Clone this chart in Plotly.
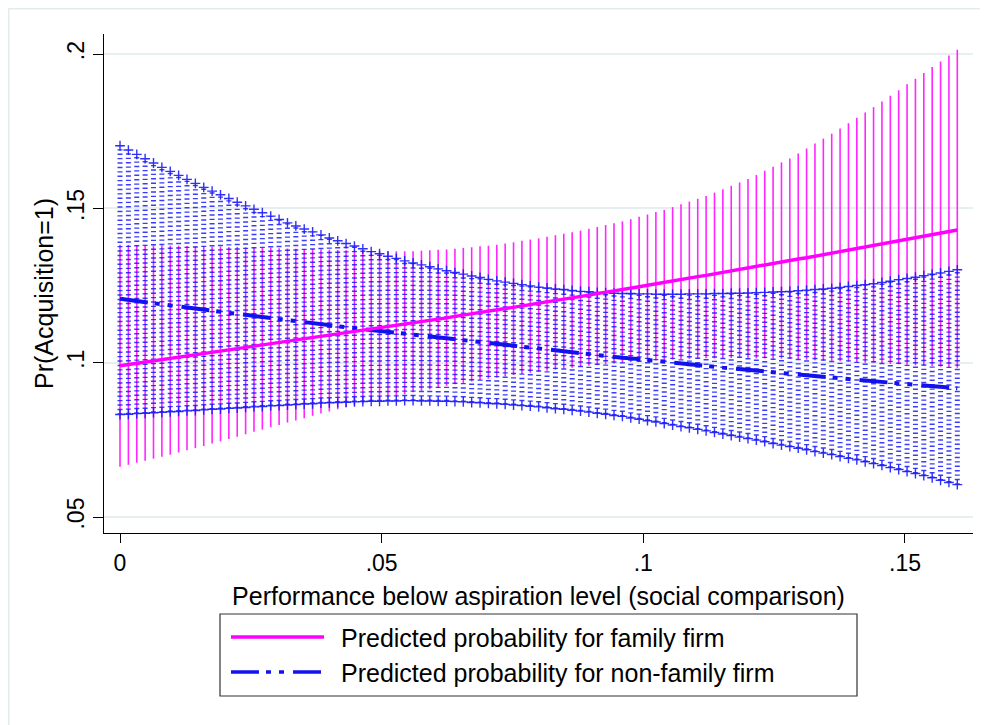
import plotly.graph_objects as go

# ---------------- data ----------------
perf = [
    0.0000, 0.0016, 0.0032, 0.0048, 0.0064, 0.0080, 0.0096, 0.0112, 0.0128, 0.0144,
    0.0160, 0.0176, 0.0192, 0.0208, 0.0224, 0.0240, 0.0256, 0.0272, 0.0288, 0.0304,
    0.0320, 0.0336, 0.0352, 0.0368, 0.0384, 0.0400, 0.0416, 0.0432, 0.0448, 0.0464,
    0.0480, 0.0496, 0.0512, 0.0528, 0.0544, 0.0560, 0.0576, 0.0592, 0.0608, 0.0624,
    0.0640, 0.0656, 0.0672, 0.0688, 0.0704, 0.0720, 0.0736, 0.0752, 0.0768, 0.0784,
    0.0800, 0.0816, 0.0832, 0.0848, 0.0864, 0.0880, 0.0896, 0.0912, 0.0928, 0.0944,
    0.0960, 0.0976, 0.0992, 0.1008, 0.1024, 0.1040, 0.1056, 0.1072, 0.1088, 0.1104,
    0.1120, 0.1136, 0.1152, 0.1168, 0.1184, 0.1200, 0.1216, 0.1232, 0.1248, 0.1264,
    0.1280, 0.1296, 0.1312, 0.1328, 0.1344, 0.1360, 0.1376, 0.1392, 0.1408, 0.1424,
    0.1440, 0.1456, 0.1472, 0.1488, 0.1504, 0.1520, 0.1536, 0.1552, 0.1568, 0.1584,
    0.1600,
]

fam_pred = [
    0.0990, 0.0994, 0.0998, 0.1001, 0.1005, 0.1009, 0.1013, 0.1017, 0.1021, 0.1024,
    0.1028, 0.1032, 0.1036, 0.1040, 0.1044, 0.1048, 0.1052, 0.1056, 0.1060, 0.1063,
    0.1067, 0.1071, 0.1075, 0.1079, 0.1084, 0.1088, 0.1092, 0.1096, 0.1100, 0.1104,
    0.1108, 0.1112, 0.1116, 0.1120, 0.1124, 0.1129, 0.1133, 0.1137, 0.1141, 0.1145,
    0.1150, 0.1154, 0.1158, 0.1163, 0.1167, 0.1171, 0.1175, 0.1180, 0.1184, 0.1188,
    0.1193, 0.1197, 0.1202, 0.1206, 0.1211, 0.1215, 0.1219, 0.1224, 0.1228, 0.1233,
    0.1237, 0.1242, 0.1246, 0.1251, 0.1256, 0.1260, 0.1265, 0.1269, 0.1274, 0.1279,
    0.1283, 0.1288, 0.1293, 0.1297, 0.1302, 0.1307, 0.1312, 0.1316, 0.1321, 0.1326,
    0.1331, 0.1336, 0.1340, 0.1345, 0.1350, 0.1355, 0.1360, 0.1365, 0.1370, 0.1375,
    0.1380, 0.1385, 0.1390, 0.1395, 0.1400, 0.1405, 0.1410, 0.1415, 0.1420, 0.1425,
    0.1430,
]

fam_hi = [
    0.1382, 0.1382, 0.1381, 0.1381, 0.1380, 0.1380, 0.1379, 0.1379, 0.1378, 0.1378,
    0.1377, 0.1376, 0.1376, 0.1375, 0.1375, 0.1374, 0.1373, 0.1372, 0.1372, 0.1371,
    0.1370, 0.1369, 0.1368, 0.1368, 0.1367, 0.1366, 0.1365, 0.1364, 0.1364, 0.1363,
    0.1362, 0.1362, 0.1362, 0.1361, 0.1361, 0.1361, 0.1363, 0.1364, 0.1366, 0.1367,
    0.1369, 0.1372, 0.1374, 0.1377, 0.1379, 0.1382, 0.1386, 0.1390, 0.1395, 0.1399,
    0.1403, 0.1408, 0.1413, 0.1418, 0.1423, 0.1428, 0.1434, 0.1440, 0.1446, 0.1452,
    0.1458, 0.1465, 0.1473, 0.1480, 0.1488, 0.1495, 0.1504, 0.1513, 0.1522, 0.1531,
    0.1540, 0.1551, 0.1562, 0.1573, 0.1584, 0.1595, 0.1608, 0.1622, 0.1635, 0.1649,
    0.1662, 0.1678, 0.1694, 0.1710, 0.1726, 0.1742, 0.1759, 0.1776, 0.1794, 0.1811,
    0.1828, 0.1846, 0.1865, 0.1883, 0.1902, 0.1920, 0.1939, 0.1958, 0.1976, 0.1995,
    0.2014,
]

fam_lo = [
    0.0663, 0.0669, 0.0676, 0.0682, 0.0689, 0.0695, 0.0702, 0.0709, 0.0716, 0.0723,
    0.0730, 0.0738, 0.0745, 0.0753, 0.0760, 0.0768, 0.0776, 0.0783, 0.0791, 0.0798,
    0.0806, 0.0813, 0.0820, 0.0828, 0.0835, 0.0842, 0.0849, 0.0855, 0.0862, 0.0868,
    0.0875, 0.0881, 0.0887, 0.0892, 0.0898, 0.0904, 0.0909, 0.0914, 0.0920, 0.0925,
    0.0930, 0.0934, 0.0939, 0.0943, 0.0948, 0.0952, 0.0956, 0.0960, 0.0963, 0.0967,
    0.0971, 0.0974, 0.0977, 0.0981, 0.0984, 0.0987, 0.0990, 0.0992, 0.0995, 0.0997,
    0.1000, 0.1002, 0.1004, 0.1005, 0.1007, 0.1009, 0.1010, 0.1011, 0.1012, 0.1013,
    0.1014, 0.1014, 0.1014, 0.1015, 0.1015, 0.1015, 0.1014, 0.1014, 0.1013, 0.1013,
    0.1012, 0.1011, 0.1010, 0.1008, 0.1007, 0.1006, 0.1005, 0.1003, 0.1002, 0.1000,
    0.0999, 0.0998, 0.0996, 0.0995, 0.0993, 0.0992, 0.0990, 0.0989, 0.0987, 0.0986,
    0.0984,
]

non_pred = [
    0.1207, 0.1203, 0.1200, 0.1196, 0.1193, 0.1189, 0.1186, 0.1182, 0.1179, 0.1175,
    0.1172, 0.1168, 0.1165, 0.1161, 0.1158, 0.1155, 0.1151, 0.1148, 0.1145, 0.1141,
    0.1138, 0.1135, 0.1131, 0.1128, 0.1125, 0.1121, 0.1118, 0.1115, 0.1112, 0.1109,
    0.1105, 0.1102, 0.1099, 0.1096, 0.1093, 0.1090, 0.1087, 0.1083, 0.1080, 0.1077,
    0.1074, 0.1071, 0.1068, 0.1065, 0.1062, 0.1059, 0.1056, 0.1053, 0.1050, 0.1048,
    0.1045, 0.1042, 0.1039, 0.1036, 0.1033, 0.1030, 0.1028, 0.1025, 0.1022, 0.1019,
    0.1016, 0.1014, 0.1011, 0.1008, 0.1005, 0.1003, 0.1000, 0.0997, 0.0995, 0.0992,
    0.0990, 0.0987, 0.0984, 0.0982, 0.0979, 0.0977, 0.0974, 0.0972, 0.0969, 0.0967,
    0.0964, 0.0962, 0.0959, 0.0957, 0.0954, 0.0952, 0.0950, 0.0947, 0.0945, 0.0942,
    0.0940, 0.0938, 0.0935, 0.0933, 0.0931, 0.0929, 0.0926, 0.0924, 0.0922, 0.0920,
    0.0917,
]

non_hi = [
    0.1703, 0.1689, 0.1675, 0.1661, 0.1647, 0.1633, 0.1620, 0.1607, 0.1594, 0.1581,
    0.1568, 0.1556, 0.1544, 0.1532, 0.1520, 0.1508, 0.1497, 0.1486, 0.1475, 0.1464,
    0.1453, 0.1443, 0.1433, 0.1424, 0.1414, 0.1404, 0.1395, 0.1386, 0.1378, 0.1369,
    0.1360, 0.1353, 0.1345, 0.1338, 0.1330, 0.1323, 0.1317, 0.1311, 0.1304, 0.1298,
    0.1292, 0.1287, 0.1281, 0.1276, 0.1270, 0.1265, 0.1261, 0.1257, 0.1253, 0.1249,
    0.1245, 0.1242, 0.1239, 0.1237, 0.1234, 0.1231, 0.1230, 0.1228, 0.1227, 0.1225,
    0.1224, 0.1224, 0.1223, 0.1223, 0.1222, 0.1222, 0.1222, 0.1222, 0.1223, 0.1223,
    0.1223, 0.1224, 0.1224, 0.1225, 0.1225, 0.1226, 0.1227, 0.1228, 0.1229, 0.1230,
    0.1231, 0.1233, 0.1235, 0.1237, 0.1239, 0.1241, 0.1244, 0.1247, 0.1250, 0.1253,
    0.1256, 0.1260, 0.1264, 0.1269, 0.1273, 0.1277, 0.1282, 0.1287, 0.1291, 0.1296,
    0.1301,
]

non_lo = [
    0.0832, 0.0833, 0.0835, 0.0836, 0.0838, 0.0839, 0.0841, 0.0842, 0.0844, 0.0845,
    0.0847, 0.0849, 0.0850, 0.0852, 0.0853, 0.0855, 0.0857, 0.0858, 0.0860, 0.0861,
    0.0863, 0.0864, 0.0866, 0.0867, 0.0869, 0.0870, 0.0871, 0.0872, 0.0873, 0.0874,
    0.0875, 0.0875, 0.0876, 0.0876, 0.0877, 0.0877, 0.0876, 0.0876, 0.0875, 0.0875,
    0.0874, 0.0873, 0.0871, 0.0870, 0.0868, 0.0867, 0.0865, 0.0863, 0.0861, 0.0859,
    0.0857, 0.0854, 0.0851, 0.0849, 0.0846, 0.0843, 0.0840, 0.0836, 0.0833, 0.0829,
    0.0826, 0.0821, 0.0817, 0.0812, 0.0808, 0.0803, 0.0798, 0.0793, 0.0789, 0.0784,
    0.0779, 0.0774, 0.0769, 0.0764, 0.0759, 0.0754, 0.0749, 0.0744, 0.0738, 0.0733,
    0.0728, 0.0723, 0.0718, 0.0712, 0.0707, 0.0702, 0.0696, 0.0690, 0.0685, 0.0679,
    0.0673, 0.0667, 0.0660, 0.0654, 0.0647, 0.0641, 0.0634, 0.0627, 0.0619, 0.0612,
    0.0605,
]

x_tickvals = [0, 0.05, 0.1, 0.15]
x_ticktext = ["0", ".05", ".1", ".15"]
y_tickvals = [0.05, 0.1, 0.15, 0.2]
y_ticktext = [".05", ".1", ".15", ".2"]

x_title = "Performance below aspiration level (social comparison)"
y_title = "Pr(Acquisition=1)"
legend_labels = ["Predicted probability for family firm",
                 "Predicted probability for non-family firm"]

# ---------------- styling ----------------
FONT = "Liberation Sans, Arial, Helvetica, sans-serif"
MAGENTA = "#FF00FF"
BLUE = "#1212EE"
NON_DASH = "28px,7px,5px,8px,5px,9px"


def spikes(xs, lo, hi):
    """Vertical range segments built from the data arrays."""
    X, Y = [], []
    for x, a, b in zip(xs, lo, hi):
        X += [x, x, None]
        Y += [a, b, None]
    return X, Y


fx, fy = spikes(perf, fam_lo, fam_hi)
nx, ny = spikes(perf, non_lo, non_hi)

fig = go.Figure()

# family-firm CI (solid magenta spikes)
fig.add_trace(go.Scatter(
    x=fx, y=fy, mode="lines", hoverinfo="skip", showlegend=False,
    line=dict(color="rgba(255,0,255,0.85)", width=1.6),
))
# non-family CI (dashed blue spikes)
fig.add_trace(go.Scatter(
    x=nx, y=ny, mode="lines", hoverinfo="skip", showlegend=False,
    line=dict(color="rgba(25,25,250,0.85)", width=5, dash="1.4px,3px"),
))
# non-family CI caps
fig.add_trace(go.Scatter(
    x=perf + perf, y=non_hi + non_lo, mode="markers", hoverinfo="skip",
    showlegend=False,
    marker=dict(symbol="cross-thin", size=7,
                line=dict(width=1.4, color="rgba(25,25,250,0.9)")),
))
# predicted lines
fig.add_trace(go.Scatter(
    x=perf, y=non_pred, mode="lines", name=legend_labels[1], showlegend=False,
    line=dict(color=BLUE, width=4, dash=NON_DASH),
))
fig.add_trace(go.Scatter(
    x=perf, y=fam_pred, mode="lines", name=legend_labels[0], showlegend=False,
    line=dict(color=MAGENTA, width=3.4),
))

# ---------------- layout ----------------
# page has an 8px body margin; figure is sized so the plot lands where the
# reference's plot area is (page px 104..973 x 34..533)
PAGE_OFF = 8
L, R, T, B = 96, 15, 26, 192
W, H = 980, 717
PW, PH = W - L - R, H - T - B


def px2paper_x(px):
    return (px - PAGE_OFF - L) / PW


def px2paper_y(py):
    return (H - B - (py - PAGE_OFF)) / PH


shapes = [
    # faint outer graph-region frame (top / left edges visible)
    dict(type="rect", xref="paper", yref="paper",
         x0=px2paper_x(8.7), x1=px2paper_x(1010),
         y0=px2paper_y(760), y1=px2paper_y(8.7),
         line=dict(color="#E3EBED", width=1.5), layer="below"),
    # legend box
    dict(type="rect", xref="paper", yref="paper",
         x0=px2paper_x(220), x1=px2paper_x(857),
         y0=px2paper_y(696), y1=px2paper_y(614),
         line=dict(color="#333333", width=1.2), fillcolor="white"),
    # legend samples
    dict(type="line", xref="paper", yref="paper",
         x0=px2paper_x(231), x1=px2paper_x(324),
         y0=px2paper_y(637), y1=px2paper_y(637),
         line=dict(color=MAGENTA, width=3.4)),
    dict(type="line", xref="paper", yref="paper",
         x0=px2paper_x(231), x1=px2paper_x(324),
         y0=px2paper_y(672), y1=px2paper_y(672),
         line=dict(color=BLUE, width=3.6, dash=NON_DASH)),
]

annotations = [
    dict(xref="paper", yref="paper", x=px2paper_x(339), y=px2paper_y(638),
         xanchor="left", yanchor="middle", showarrow=False,
         text=legend_labels[0], font=dict(family=FONT, size=25, color="black")),
    dict(xref="paper", yref="paper", x=px2paper_x(339), y=px2paper_y(673),
         xanchor="left", yanchor="middle", showarrow=False,
         text=legend_labels[1], font=dict(family=FONT, size=25, color="black")),
    # y-axis title (rotated), placed like the reference
    dict(xref="paper", yref="paper", x=px2paper_x(44), y=px2paper_y(294),
         xanchor="center", yanchor="middle", showarrow=False, textangle=-90,
         text=y_title, font=dict(family=FONT, size=25, color="black")),
]

fig.update_layout(
    width=W, height=H,
    margin=dict(l=L, r=R, t=T, b=B, pad=0),
    paper_bgcolor="white", plot_bgcolor="white",
    font=dict(family=FONT, color="black"),
    showlegend=False,
    shapes=shapes,
    annotations=annotations,
    xaxis=dict(
        range=[-0.00306, 0.1630],
        showline=True, linecolor="black", linewidth=1.3,
        ticks="outside", ticklen=9, tickwidth=1.3, tickcolor="black",
        tickvals=x_tickvals, ticktext=x_ticktext,
        tickfont=dict(family=FONT, size=23, color="black"),
        showgrid=False, zeroline=False,
        title=dict(text=x_title, font=dict(family=FONT, size=25, color="black"),
                   standoff=12),
    ),
    yaxis=dict(
        range=[0.04482, 0.2065],
        showline=True, linecolor="black", linewidth=1.3,
        ticks="outside", ticklen=10, tickwidth=1.3, tickcolor="black",
        tickvals=y_tickvals, ticktext=y_ticktext, tickangle=-90,
        ticklabelstandoff=0,
        tickfont=dict(family=FONT, size=23, color="black"),
        showgrid=True, gridcolor="#E8EFF1", gridwidth=2,
        zeroline=False,
    ),
)

fig.write_html("out.html")
